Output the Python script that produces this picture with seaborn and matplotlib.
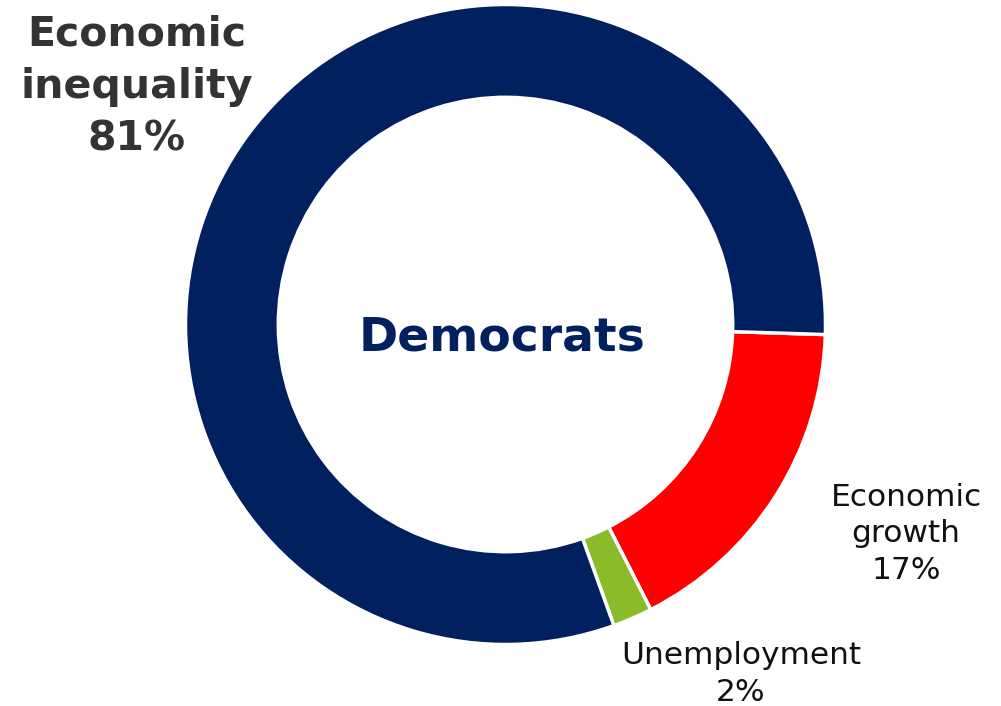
import matplotlib
matplotlib.use("Agg")
import matplotlib.pyplot as plt
import seaborn as sns

# Shares of the top economic concern among Democrats (percent)
categories = ["Economic growth", "Unemployment", "Economic inequality"]
shares = [17, 2, 81]
colors = ["#FF0000", "#8ABB2A", "#002060"]

sns.set_theme(style="white")
plt.rcParams["font.family"] = ["DejaVu Sans"]

W, H = 1001, 706
fig = plt.figure(figsize=(W / 100, H / 100), dpi=100)
cx, cy, r = 505.5, 324.5, 320  # ring centre and outer radius in pixels
ax = fig.add_axes([(cx - r) / W, (H - cy - r) / H, 2 * r / W, 2 * r / H])

ax.pie(
    shares,
    colors=colors,
    startangle=-1.8,
    counterclock=False,
    radius=1.0,
    wedgeprops=dict(width=0.29, edgecolor="white", linewidth=2.5),
)
ax.set_xlim(-1, 1)
ax.set_ylim(-1, 1)
ax.set_aspect("equal")
ax.axis("off")


def fig_text(x, y, s, **kw):
    fig.text(x / W, 1 - y / H, s, ha="center", va="center", **kw)


fig_text(502, 338, "Democrats", fontsize=34, fontweight="bold", color="#002060")

fig_text(137, 87, f"Economic\ninequality\n{shares[2]}%", fontsize=29.5,
         fontweight="bold", color="#333333", linespacing=1.4)
fig_text(906, 534, f"Economic\ngrowth\n{shares[0]}%", fontsize=22.5,
         color="#111111", linespacing=1.32)
fig_text(741, 674, f"Unemployment\n{shares[1]}%", fontsize=22.5,
         color="#111111", linespacing=1.32)

fig.savefig("out.png", dpi=100, facecolor="white")
